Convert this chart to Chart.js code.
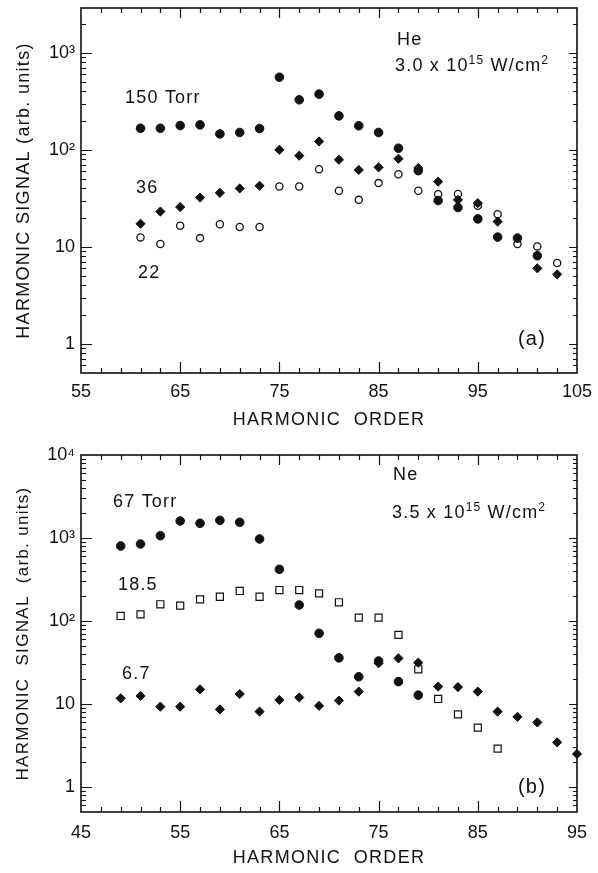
<!DOCTYPE html>
<html>
<head>
<meta charset="utf-8">
<script src="https://cdn.jsdelivr.net/npm/chart.js@4.4.0/dist/chart.umd.min.js"></script>
<style>
  html, body { margin: 0; padding: 0; background: #fff; }
  #wrap { position: relative; width: 598px; height: 873px; background: #fff; }
  #boxA { position: absolute; left: 0; top: 0; width: 598px; height: 436px; }
  #boxB { position: absolute; left: 0; top: 436px; width: 598px; height: 437px; }
  canvas { display: block; }
</style>
</head>
<body>
<div id="wrap">
  <div id="boxA"><canvas id="chartA" width="598" height="436"></canvas></div>
  <div id="boxB"><canvas id="chartB" width="598" height="437"></canvas></div>
</div>
<script>
// ---------------- Panel (a): He, 3.0 x 10^15 W/cm^2 ----------------
const harmonicsA = [61,63,65,67,69,71,73,75,77,79,81,83,85,87,89,91,93,95,97,99,101,103];
const he150Torr  = [167,167,178,181,146,151,166,561,328,375,224,177,151,104,61,30,25.4,19.4,12.6,12.3,8.1,null];
const he36Torr   = [17.3,23.1,25.7,32.2,36,40,42.6,100,87,122,79,62,66,81,65,47,30.5,28.2,18.2,null,6.0,5.2];
const he22Torr   = [12.5,10.7,16.5,12.3,17.1,16,16,41.9,41.9,63,37.8,30.5,45.4,56,37.8,34.9,35,26.5,21.7,10.7,10.1,6.8];
const xMajorA    = [55,65,75,85,95,105];
const yDecadesA  = [1,10,100,1000];
const yLabelsA   = ['1','10','10²','10³'];

// ---------------- Panel (b): Ne, 3.5 x 10^15 W/cm^2 ----------------
const harmonicsB = [49,51,53,55,57,59,61,63,65,67,69,71,73,75,77,79,81,83,85,87,89,91,93,95];
const ne67Torr   = [801,847,1066,1603,1503,1633,1545,973,420,156,71,36,21.3,33,18.6,12.8,null,null,null,null,null,null,null,null];
const ne18_5Torr = [115,120,159,153,182,196,230,196,236,236,215,168,110,110,68,26.2,11.5,7.5,5.2,2.9,null,null,null,null];
const ne6_7Torr  = [11.7,12.5,9.3,9.3,15,8.6,13.2,8.1,11.2,12,9.5,11,14.1,31,35.5,31.5,16.2,16,14.1,8.1,7.0,6.0,3.45,2.5];
const xMajorB    = [45,55,65,75,85,95];
const yDecadesB  = [1,10,100,1000,10000];
const yLabelsB   = ['1','10','10²','10³','10⁴'];

const INK = '#111';
const FAMILY = "'Liberation Sans', Arial, Helvetica, sans-serif";
Chart.defaults.font.family = FAMILY;
Chart.defaults.color = INK;

function toXY(xs, ys) {
  const out = [];
  xs.forEach((x, i) => { if (ys[i] !== null && ys[i] !== undefined) out.push({ x: x, y: ys[i] }); });
  return out;
}
function oddTicks(min, max) {
  const t = [];
  for (let v = min; v <= max; v += 2) t.push({ value: v });
  return t;
}
function logTicks(min, max) {
  const t = [];
  for (let e = Math.floor(Math.log10(min)); e <= Math.ceil(Math.log10(max)); e++) {
    for (let m = 1; m <= 9; m++) {
      const v = +(m * Math.pow(10, e)).toPrecision(6);
      if (v >= min - 1e-12 && v <= max + 1e-9) t.push({ value: v });
    }
  }
  return t;
}
function sameVal(a, b) { return Math.abs(a - b) <= 1e-9 * Math.max(1, Math.abs(b)); }

// frame + inward ticks on all four sides, positioned by the chart's own scales
const framePlugin = {
  id: 'frame',
  beforeDatasetsDraw(chart, args, opts) {
    const { ctx, chartArea: a } = chart;
    const xs = chart.scales.x, ys = chart.scales.y;
    ctx.save();
    ctx.strokeStyle = INK;
    ctx.lineWidth = 1.6;
    ctx.strokeRect(a.left, a.top, a.right - a.left, a.bottom - a.top);
    ctx.lineWidth = 1.2;
    ctx.beginPath();
    xs.ticks.forEach(t => {
      if (sameVal(t.value, xs.min) || sameVal(t.value, xs.max)) return;
      const px = Math.round(xs.getPixelForValue(t.value)) + 0.5;
      const major = opts.xMajor.some(m => sameVal(m, t.value));
      ctx.moveTo(px, a.bottom); ctx.lineTo(px, a.bottom - (major ? 11 : 5));
      ctx.moveTo(px, a.top);    ctx.lineTo(px, a.top + (major ? 10 : 5));
    });
    ys.ticks.forEach(t => {
      if (sameVal(t.value, ys.min) || sameVal(t.value, ys.max)) return;
      const py = Math.round(ys.getPixelForValue(t.value)) + 0.5;
      const major = opts.yMajor.some(m => sameVal(m, t.value));
      ctx.moveTo(a.left, py);  ctx.lineTo(a.left + (major ? 11 : 5), py);
      ctx.moveTo(a.right, py); ctx.lineTo(a.right - (major ? 8 : 4), py);
    });
    ctx.stroke();
    ctx.restore();
  }
};

// in-plot annotations, placed in data coordinates
const notesPlugin = {
  id: 'notes',
  afterDatasetsDraw(chart, args, opts) {
    const { ctx } = chart;
    const xs = chart.scales.x, ys = chart.scales.y;
    ctx.save();
    ctx.fillStyle = INK;
    ctx.textAlign = 'left';
    ctx.textBaseline = 'alphabetic';
    try { ctx.letterSpacing = '1.2px'; } catch (e) {}
    opts.items.forEach(n => {
      let px = xs.getPixelForValue(n.x);
      const py = ys.getPixelForValue(n.y);
      const size = n.size || 18;
      n.parts.forEach(p => {
        const sup = p[1] === 1;
        ctx.font = (sup ? Math.round(size * 0.68) : size) + 'px ' + FAMILY;
        ctx.fillText(p[0], px, sup ? py - 7 : py);
        px += ctx.measureText(p[0]).width;
      });
    });
    ctx.restore();
  }
};

// letter-spaced axis titles (like the typeset original)
const spacingPlugin = {
  id: 'spacing',
  afterUpdate(chart) {
    Object.values(chart.scales).forEach(s => {
      if (s._spacedTitle) return;
      const orig = s.drawTitle;
      s.drawTitle = function () {
        const c = this.ctx;
        const prev = c.letterSpacing;
        try { c.letterSpacing = '1.3px'; } catch (e) {}
        orig.apply(this, arguments);
        try { c.letterSpacing = prev || '0px'; } catch (e) {}
      };
      s._spacedTitle = true;
    });
  }
};

function makeChart(id, cfg) {
  const datasets = cfg.series.map(s => Object.assign({
    data: toXY(cfg.harmonics, s.values),
    showLine: false,
    clip: false,
    borderColor: INK
  }, s.style));
  return new Chart(document.getElementById(id), {
    type: 'scatter',
    data: { datasets: datasets },
    plugins: [framePlugin, notesPlugin, spacingPlugin],
    options: {
      responsive: false,
      animation: false,
      events: [],
      layout: { padding: { top: cfg.padTop, right: 21, bottom: 0, left: 0 } },
      plugins: {
        legend: { display: false },
        tooltip: { enabled: false },
        frame: { xMajor: cfg.xMajor, yMajor: cfg.yDecades },
        notes: { items: cfg.notes }
      },
      scales: {
        x: {
          type: 'linear',
          min: cfg.xMin, max: cfg.xMax,
          afterBuildTicks: s => { s.ticks = oddTicks(cfg.xMin, cfg.xMax); },
          afterFit: s => { s.height = cfg.xAxisHeight; s.paddingLeft = 0; s.paddingRight = 0; },
          grid: { display: false, drawTicks: false },
          border: { display: false },
          ticks: {
            autoSkip: false, maxRotation: 0, padding: cfg.xTickPad, color: INK,
            font: { size: 18, family: FAMILY },
            callback: v => (cfg.xMajor.some(m => sameVal(m, v)) ? String(v) : '')
          },
          title: {
            display: true, text: 'HARMONIC  ORDER', color: INK,
            font: { size: 18, family: FAMILY },
            padding: { top: 0, bottom: cfg.xTitlePad }
          }
        },
        y: {
          type: 'logarithmic',
          min: cfg.yMin, max: cfg.yMax,
          afterBuildTicks: s => { s.ticks = logTicks(cfg.yMin, cfg.yMax); },
          afterFit: s => { s.width = 81; s.paddingTop = 0; s.paddingBottom = 0; },
          grid: { display: false, drawTicks: false },
          border: { display: false },
          ticks: {
            autoSkip: false, padding: 6, color: INK,
            font: { size: 18, family: FAMILY },
            callback: v => {
              const i = cfg.yDecades.findIndex(d => sameVal(d, v));
              return i >= 0 ? cfg.yLabels[i] : '';
            }
          },
          title: {
            display: true, text: cfg.yTitle, color: INK,
            font: { size: cfg.yTitleSize, family: FAMILY },
            padding: { top: 13, bottom: 0 }
          }
        }
      }
    }
  });
}

const filledCircle = { pointStyle: 'circle', pointRadius: 4.3, backgroundColor: INK, borderWidth: 1 };
const openCircle   = { pointStyle: 'circle', pointRadius: 3.6, backgroundColor: 'rgba(0,0,0,0)', borderWidth: 1.3 };
const diamond      = { pointStyle: 'rectRot', pointRadius: 4.6, backgroundColor: INK, borderWidth: 1 };
const openSquare   = { pointStyle: 'rect', pointRadius: 5, backgroundColor: 'rgba(0,0,0,0)', borderWidth: 1.2 };

makeChart('chartA', {
  harmonics: harmonicsA,
  series: [
    { values: he150Torr, style: Object.assign({ label: '150 Torr' }, filledCircle) },
    { values: he36Torr,  style: Object.assign({ label: '36 Torr' }, diamond) },
    { values: he22Torr,  style: Object.assign({ label: '22 Torr' }, openCircle) }
  ],
  xMin: 55, xMax: 105, xMajor: xMajorA,
  yMin: 0.5, yMax: 2900, yDecades: yDecadesA, yLabels: yLabelsA,
  yTitle: 'HARMONIC SIGNAL (arb. units)', yTitleSize: 18,
  padTop: 8, xAxisHeight: 63, xTickPad: 8, xTitlePad: 5,
  notes: [
    { x: 86.85, y: 1209, parts: [['He']] },
    { x: 86.65, y: 652,  parts: [['3.0 x 10'], ['15', 1], [' W/cm'], ['2', 1]] },
    { x: 59.44, y: 305,  parts: [['150 Torr']] },
    { x: 60.54, y: 36,   parts: [['36']] },
    { x: 60.75, y: 4.79, parts: [['22']] },
    { x: 99.05, y: 0.976, parts: [['(a)']], size: 20 }
  ]
});

makeChart('chartB', {
  harmonics: harmonicsB,
  series: [
    { values: ne67Torr,   style: Object.assign({ label: '67 Torr' }, filledCircle) },
    { values: ne6_7Torr,  style: Object.assign({ label: '6.7 Torr' }, diamond) },
    { values: ne18_5Torr, style: Object.assign({ label: '18.5 Torr' }, openSquare) }
  ],
  xMin: 45, xMax: 95, xMajor: xMajorB,
  yMin: 0.5, yMax: 10000, yDecades: yDecadesB, yLabels: yLabelsB,
  yTitle: 'HARMONIC  SIGNAL  (arb. units)', yTitleSize: 17,
  padTop: 19, xAxisHeight: 61, xTickPad: 10, xTitlePad: 4,
  notes: [
    { x: 76.45, y: 5000, parts: [['Ne']] },
    { x: 76.35, y: 1742, parts: [['3.5 x 10'], ['15', 1], [' W/cm'], ['2', 1]] },
    { x: 48.23, y: 2362, parts: [['67 Torr']] },
    { x: 48.73, y: 236,  parts: [['18.5']] },
    { x: 49.13, y: 20,   parts: [['6.7']] },
    { x: 89.05, y: 0.847, parts: [['(b)']], size: 20 }
  ]
});
</script>
</body>
</html>
